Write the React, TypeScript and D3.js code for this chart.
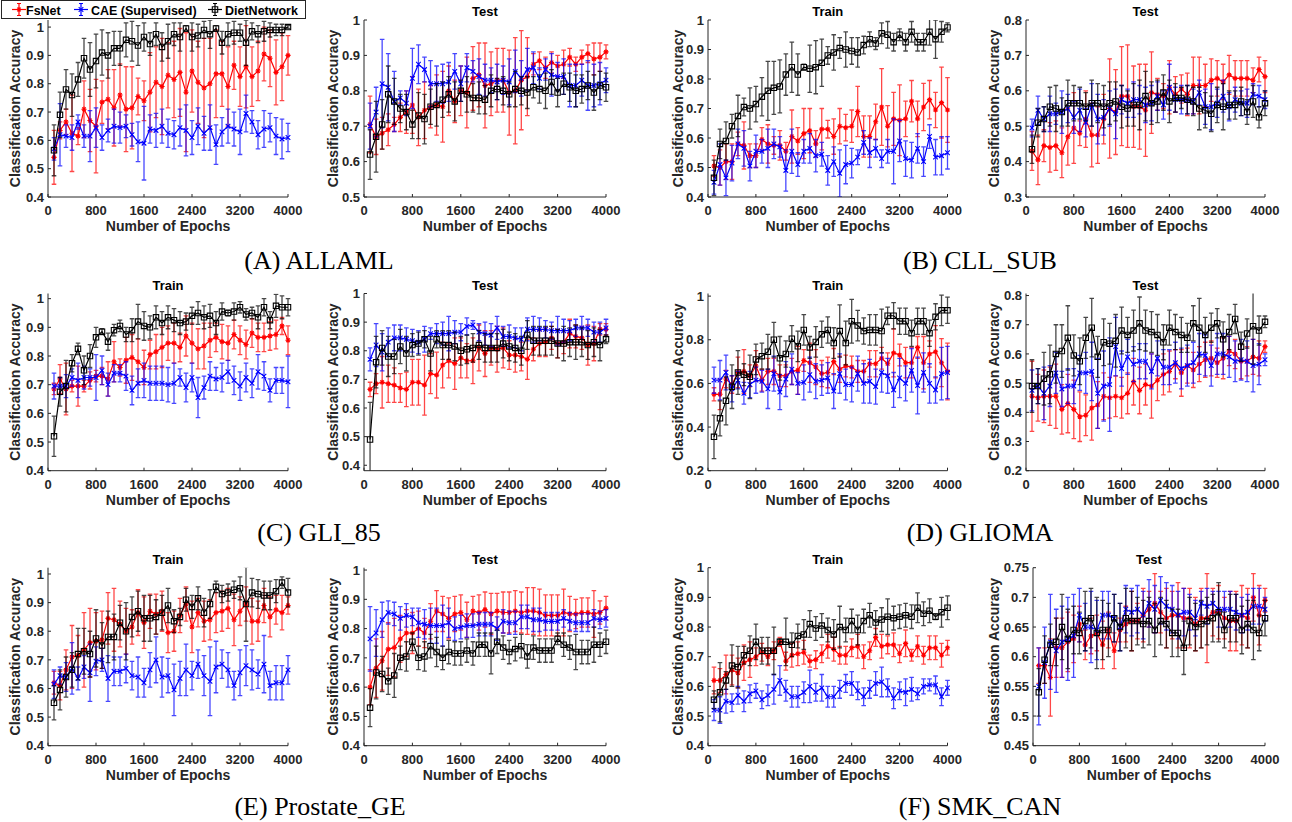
import React from 'react';
import * as d3 from 'd3';

const FONT = "'Liberation Sans', Arial, Helvetica, sans-serif";
const AXIS = '#262626';
const colors = { fs: '#ff0000', cae: '#0000ff', diet: '#000000' };
const legendNames = ['FsNet', 'CAE (Supervised)', 'DietNetwork'];

const epochs = [100, 200, 300, 400, 500, 600, 700, 800, 900, 1000, 1100, 1200, 1300, 1400, 1500, 1600, 1700, 1800, 1900, 2000,
  2100, 2200, 2300, 2400, 2500, 2600, 2700, 2800, 2900, 3000, 3100, 3200, 3300, 3400, 3500, 3600, 3700, 3800, 3900, 4000];
const xTicks = [0, 800, 1600, 2400, 3200, 4000];

// (A) ALLAML
const allamlTrainFs = [0.54,0.635,0.665,0.625,0.615,0.71,0.67,0.65,0.735,0.745,0.715,0.76,0.71,0.715,0.755,0.74,0.77,0.805,0.79,0.83,0.815,0.84,0.77,0.845,0.805,0.785,0.80,0.835,0.835,0.79,0.865,0.825,0.86,0.825,0.845,0.905,0.89,0.84,0.86,0.90];
const allamlTrainFsErr = [0.095,0.03,0.045,0.135,0.03,0.10,0.11,0.165,0.075,0.105,0.135,0.11,0.15,0.145,0.065,0.07,0.14,0.125,0.17,0.115,0.135,0.155,0.21,0.145,0.145,0.175,0.16,0.155,0.115,0.14,0.085,0.105,0.145,0.105,0.105,0.095,0.10,0.115,0.12,0.07];
const allamlTrainCae = [0.57,0.62,0.615,0.61,0.665,0.615,0.615,0.645,0.61,0.635,0.65,0.645,0.65,0.62,0.595,0.59,0.64,0.635,0.65,0.625,0.62,0.645,0.635,0.61,0.65,0.625,0.645,0.585,0.63,0.65,0.64,0.63,0.695,0.665,0.62,0.64,0.645,0.615,0.605,0.61];
const allamlTrainCaeErr = [0.04,0.11,0.04,0.045,0.025,0.04,0.09,0.07,0.045,0.04,0.06,0.055,0.04,0.04,0.07,0.13,0.05,0.06,0.06,0.05,0.05,0.065,0.09,0.06,0.065,0.06,0.08,0.07,0.05,0.06,0.06,0.08,0.065,0.04,0.05,0.065,0.05,0.065,0.07,0.05];
const allamlTrainDiet = [0.565,0.69,0.78,0.76,0.815,0.89,0.85,0.88,0.91,0.90,0.925,0.925,0.955,0.95,0.935,0.965,0.94,0.975,0.93,0.95,0.975,0.965,0.995,0.965,0.97,0.99,0.975,0.995,0.945,0.975,0.98,0.98,0.945,0.985,0.975,0.985,0.99,0.99,0.99,1.0];
const allamlTrainDietErr = [0.09,0.08,0.07,0.075,0.06,0.07,0.095,0.095,0.08,0.08,0.06,0.06,0.06,0.07,0.07,0.05,0.04,0.04,0.05,0.06,0.04,0.05,0.01,0.05,0.04,0.03,0.05,0.01,0.04,0.04,0.04,0.03,0.08,0.03,0.03,0.035,0.025,0.02,0.02,0.005];
const allamlTestFs = [0.705,0.67,0.68,0.69,0.705,0.725,0.74,0.76,0.725,0.745,0.755,0.76,0.755,0.80,0.77,0.80,0.795,0.835,0.845,0.815,0.82,0.83,0.83,0.795,0.80,0.83,0.84,0.875,0.885,0.865,0.88,0.87,0.875,0.895,0.875,0.895,0.905,0.89,0.895,0.91];
const allamlTestFsErr = [0.08,0.05,0.045,0.045,0.02,0.04,0.06,0.08,0.08,0.08,0.06,0.085,0.10,0.07,0.06,0.07,0.10,0.09,0.09,0.12,0.09,0.09,0.09,0.12,0.15,0.14,0.11,0.03,0.025,0.03,0.03,0.03,0.04,0.025,0.02,0.02,0.025,0.045,0.04,0.02];
const allamlTestCae = [0.70,0.74,0.82,0.81,0.77,0.78,0.765,0.835,0.875,0.86,0.82,0.82,0.82,0.825,0.855,0.82,0.865,0.855,0.84,0.83,0.83,0.825,0.83,0.825,0.855,0.835,0.86,0.865,0.835,0.86,0.845,0.84,0.84,0.815,0.815,0.83,0.815,0.815,0.82,0.83];
const allamlTestCaeErr = [0.065,0.07,0.125,0.095,0.085,0.02,0.035,0.085,0.055,0.035,0.065,0.05,0.055,0.055,0.05,0.05,0.04,0.03,0.05,0.045,0.035,0.05,0.04,0.065,0.06,0.05,0.06,0.045,0.03,0.03,0.06,0.04,0.05,0.06,0.06,0.045,0.07,0.06,0.06,0.035];
const allamlTestDiet = [0.62,0.67,0.705,0.79,0.77,0.75,0.74,0.705,0.73,0.72,0.755,0.76,0.775,0.79,0.77,0.80,0.79,0.78,0.78,0.775,0.80,0.805,0.80,0.79,0.805,0.80,0.795,0.81,0.805,0.80,0.825,0.795,0.82,0.81,0.80,0.805,0.815,0.795,0.815,0.81];
const allamlTestDietErr = [0.07,0.10,0.07,0.08,0.065,0.04,0.05,0.04,0.065,0.07,0.05,0.06,0.05,0.05,0.055,0.03,0.05,0.04,0.045,0.04,0.045,0.03,0.04,0.035,0.05,0.04,0.045,0.03,0.04,0.05,0.035,0.04,0.03,0.04,0.045,0.04,0.04,0.05,0.04,0.04];

// (B) CLL_SUB
const cllTrainFs = [0.505,0.50,0.52,0.52,0.58,0.575,0.54,0.54,0.595,0.58,0.575,0.575,0.555,0.605,0.59,0.615,0.625,0.58,0.63,0.63,0.605,0.64,0.635,0.64,0.69,0.605,0.605,0.655,0.705,0.64,0.665,0.66,0.665,0.725,0.665,0.705,0.73,0.695,0.72,0.695];
const cllTrainFsErr = [0.035,0.06,0.06,0.06,0.04,0.08,0.04,0.04,0.04,0.065,0.03,0.05,0.03,0.09,0.045,0.085,0.075,0.045,0.07,0.03,0.06,0.06,0.045,0.055,0.085,0.07,0.07,0.06,0.13,0.07,0.09,0.12,0.06,0.07,0.06,0.08,0.065,0.06,0.12,0.11];
const cllTrainCae = [0.45,0.51,0.465,0.515,0.58,0.565,0.505,0.555,0.555,0.565,0.58,0.57,0.49,0.555,0.51,0.555,0.565,0.54,0.545,0.49,0.52,0.48,0.51,0.515,0.535,0.585,0.55,0.565,0.53,0.555,0.555,0.59,0.53,0.525,0.565,0.52,0.605,0.535,0.54,0.55];
const cllTrainCaeErr = [0.04,0.07,0.06,0.06,0.05,0.06,0.05,0.055,0.04,0.065,0.05,0.035,0.07,0.075,0.04,0.04,0.05,0.055,0.04,0.05,0.05,0.08,0.065,0.05,0.025,0.04,0.05,0.03,0.03,0.04,0.11,0.07,0.06,0.06,0.05,0.05,0.04,0.06,0.065,0.055];
const cllTrainDiet = [0.465,0.58,0.59,0.64,0.675,0.705,0.70,0.715,0.74,0.76,0.77,0.775,0.815,0.84,0.815,0.84,0.835,0.84,0.855,0.88,0.89,0.905,0.90,0.895,0.89,0.915,0.935,0.92,0.955,0.95,0.925,0.95,0.925,0.96,0.925,0.925,0.96,0.935,0.96,0.975];
const cllTrainDietErr = [0.06,0.05,0.065,0.04,0.07,0.03,0.07,0.06,0.065,0.10,0.09,0.09,0.07,0.085,0.07,0.01,0.08,0.09,0.08,0.03,0.06,0.035,0.06,0.045,0.05,0.03,0.025,0.02,0.035,0.045,0.03,0.02,0.03,0.035,0.03,0.03,0.045,0.065,0.035,0.015];
const cllTestFs = [0.43,0.405,0.445,0.44,0.445,0.425,0.47,0.495,0.48,0.52,0.475,0.475,0.52,0.55,0.54,0.585,0.585,0.555,0.555,0.545,0.595,0.59,0.585,0.61,0.59,0.605,0.59,0.615,0.615,0.615,0.63,0.635,0.625,0.645,0.635,0.635,0.635,0.63,0.66,0.64];
const cllTestFsErr = [0.055,0.07,0.045,0.07,0.07,0.07,0.08,0.10,0.035,0.08,0.09,0.08,0.07,0.14,0.12,0.14,0.145,0.115,0.12,0.13,0.115,0.045,0.035,0.075,0.05,0.04,0.06,0.08,0.08,0.06,0.06,0.05,0.05,0.055,0.05,0.05,0.05,0.035,0.035,0.045];
const cllTestCae = [0.495,0.545,0.52,0.535,0.535,0.54,0.55,0.525,0.545,0.51,0.56,0.52,0.525,0.55,0.535,0.575,0.565,0.575,0.575,0.56,0.565,0.585,0.56,0.61,0.575,0.575,0.575,0.57,0.595,0.555,0.555,0.565,0.585,0.555,0.575,0.565,0.565,0.59,0.585,0.575];
const cllTestCaeErr = [0.025,0.04,0.035,0.05,0.03,0.06,0.04,0.045,0.06,0.04,0.06,0.07,0.05,0.05,0.07,0.04,0.04,0.05,0.04,0.05,0.05,0.04,0.04,0.065,0.035,0.04,0.04,0.035,0.035,0.05,0.065,0.04,0.045,0.04,0.035,0.035,0.04,0.03,0.03,0.025];
const cllTestDiet = [0.435,0.51,0.52,0.555,0.55,0.54,0.565,0.565,0.565,0.555,0.565,0.565,0.555,0.565,0.57,0.555,0.55,0.56,0.56,0.585,0.565,0.57,0.595,0.57,0.58,0.58,0.575,0.57,0.55,0.545,0.535,0.56,0.555,0.56,0.56,0.57,0.54,0.57,0.525,0.565];
const cllTestDietErr = [0.04,0.04,0.035,0.055,0.065,0.04,0.065,0.05,0.045,0.04,0.065,0.055,0.06,0.06,0.055,0.06,0.05,0.06,0.07,0.07,0.06,0.06,0.05,0.06,0.04,0.03,0.04,0.04,0.06,0.05,0.05,0.05,0.065,0.04,0.04,0.04,0.035,0.045,0.03,0.035];

// (C) GLI_85
const gliTrainFs = [0.685,0.72,0.685,0.695,0.695,0.695,0.715,0.73,0.73,0.72,0.78,0.76,0.785,0.795,0.78,0.76,0.805,0.815,0.83,0.845,0.845,0.83,0.87,0.845,0.825,0.835,0.855,0.865,0.85,0.845,0.875,0.855,0.84,0.88,0.865,0.865,0.87,0.875,0.905,0.855];
const gliTrainFsErr = [0.02,0.05,0.09,0.02,0.07,0.02,0.03,0.02,0.03,0.06,0.07,0.03,0.08,0.08,0.08,0.06,0.05,0.06,0.07,0.06,0.07,0.05,0.07,0.07,0.07,0.08,0.06,0.05,0.06,0.06,0.05,0.05,0.05,0.05,0.05,0.05,0.05,0.05,0.03,0.05];
const gliTrainCae = [0.695,0.695,0.695,0.725,0.715,0.725,0.725,0.725,0.75,0.70,0.74,0.74,0.73,0.68,0.705,0.715,0.705,0.705,0.705,0.70,0.705,0.725,0.69,0.725,0.655,0.69,0.73,0.72,0.725,0.745,0.715,0.695,0.725,0.705,0.745,0.73,0.68,0.715,0.715,0.71];
const gliTrainCaeErr = [0.045,0.03,0.04,0.03,0.06,0.04,0.03,0.08,0.05,0.04,0.03,0.03,0.05,0.05,0.05,0.06,0.06,0.06,0.06,0.06,0.07,0.03,0.05,0.05,0.07,0.04,0.05,0.04,0.05,0.04,0.05,0.05,0.05,0.05,0.06,0.05,0.04,0.045,0.045,0.09];
const gliTrainDiet = [0.52,0.675,0.695,0.775,0.825,0.75,0.80,0.865,0.885,0.85,0.89,0.905,0.875,0.89,0.92,0.905,0.90,0.935,0.915,0.935,0.925,0.915,0.92,0.94,0.95,0.935,0.94,0.915,0.955,0.95,0.955,0.97,0.945,0.95,0.935,0.97,0.925,0.975,0.97,0.97];
const gliTrainDietErr = [0.07,0.05,0.09,0.03,0.02,0.05,0.04,0.035,0.01,0.03,0.02,0.02,0.025,0.04,0.06,0.05,0.04,0.04,0.04,0.04,0.04,0.04,0.03,0.03,0.04,0.04,0.04,0.04,0.03,0.01,0.03,0.02,0.02,0.02,0.04,0.03,0.03,0.04,0.04,0.03];
const gliTestFs = [0.665,0.685,0.69,0.685,0.68,0.67,0.665,0.69,0.69,0.68,0.72,0.715,0.75,0.765,0.755,0.775,0.765,0.765,0.81,0.79,0.81,0.805,0.81,0.785,0.785,0.78,0.77,0.805,0.825,0.83,0.845,0.825,0.83,0.86,0.85,0.845,0.82,0.825,0.875,0.875];
const gliTestFsErr = [0.025,0.035,0.09,0.065,0.06,0.05,0.06,0.08,0.08,0.105,0.07,0.08,0.08,0.06,0.09,0.07,0.06,0.08,0.08,0.08,0.06,0.08,0.07,0.05,0.06,0.05,0.07,0.04,0.045,0.05,0.04,0.05,0.04,0.05,0.04,0.04,0.07,0.06,0.02,0.02];
const gliTestCae = [0.77,0.82,0.795,0.83,0.845,0.845,0.84,0.835,0.83,0.84,0.86,0.86,0.86,0.86,0.865,0.865,0.885,0.89,0.865,0.86,0.855,0.88,0.85,0.85,0.845,0.84,0.875,0.875,0.875,0.875,0.87,0.87,0.87,0.87,0.88,0.88,0.88,0.865,0.865,0.88];
const gliTestCaeErr = [0.04,0.075,0.065,0.05,0.045,0.045,0.04,0.04,0.04,0.045,0.02,0.035,0.04,0.06,0.04,0.03,0.03,0.015,0.03,0.04,0.04,0.04,0.035,0.04,0.035,0.04,0.04,0.045,0.04,0.03,0.03,0.05,0.04,0.035,0.03,0.04,0.03,0.035,0.035,0.03];
const gliTestDiet = [0.49,0.76,0.81,0.78,0.78,0.815,0.79,0.82,0.825,0.84,0.79,0.84,0.82,0.82,0.815,0.80,0.805,0.81,0.82,0.81,0.81,0.81,0.825,0.815,0.81,0.80,0.855,0.835,0.835,0.835,0.835,0.825,0.825,0.83,0.83,0.83,0.82,0.83,0.82,0.84];
const gliTestDietErr = [0.13,0.09,0.06,0.07,0.06,0.06,0.06,0.04,0.04,0.03,0.06,0.03,0.05,0.05,0.05,0.05,0.05,0.05,0.05,0.05,0.05,0.05,0.05,0.05,0.05,0.05,0.05,0.05,0.05,0.05,0.05,0.05,0.06,0.05,0.06,0.05,0.05,0.05,0.055,0.015];

// (D) GLIOMA
const gliomaTrainFs = [0.55,0.55,0.62,0.595,0.65,0.655,0.635,0.68,0.615,0.655,0.655,0.635,0.635,0.655,0.66,0.705,0.695,0.675,0.645,0.65,0.70,0.665,0.68,0.675,0.655,0.655,0.69,0.69,0.715,0.69,0.74,0.73,0.695,0.695,0.765,0.695,0.735,0.745,0.695,0.655];
const gliomaTrainFsErr = [0.03,0.07,0.04,0.04,0.07,0.10,0.05,0.07,0.05,0.06,0.06,0.05,0.05,0.06,0.11,0.05,0.09,0.08,0.06,0.07,0.06,0.06,0.05,0.05,0.05,0.05,0.06,0.06,0.05,0.05,0.11,0.05,0.07,0.07,0.05,0.12,0.06,0.12,0.11,0.13];
const gliomaTrainCae = [0.615,0.615,0.65,0.575,0.615,0.555,0.595,0.615,0.61,0.575,0.645,0.56,0.62,0.665,0.60,0.605,0.64,0.61,0.615,0.625,0.565,0.645,0.595,0.595,0.645,0.60,0.61,0.585,0.65,0.635,0.57,0.625,0.60,0.66,0.59,0.65,0.60,0.57,0.645,0.65];
const gliomaTrainCaeErr = [0.06,0.09,0.08,0.06,0.04,0.05,0.06,0.06,0.05,0.09,0.08,0.08,0.08,0.07,0.05,0.08,0.08,0.08,0.07,0.07,0.08,0.09,0.07,0.08,0.08,0.09,0.10,0.08,0.09,0.08,0.08,0.09,0.08,0.10,0.13,0.09,0.09,0.06,0.12,0.12];
const gliomaTrainDiet = [0.355,0.44,0.52,0.585,0.65,0.64,0.63,0.71,0.725,0.745,0.80,0.715,0.735,0.805,0.77,0.845,0.765,0.79,0.825,0.845,0.785,0.84,0.785,0.885,0.865,0.84,0.845,0.845,0.84,0.91,0.91,0.885,0.885,0.83,0.885,0.885,0.83,0.905,0.935,0.935];
const gliomaTrainDietErr = [0.10,0.08,0.11,0.10,0.10,0.05,0.10,0.07,0.06,0.08,0.08,0.10,0.06,0.06,0.07,0.07,0.05,0.07,0.06,0.06,0.07,0.12,0.10,0.10,0.07,0.06,0.07,0.07,0.10,0.04,0.06,0.06,0.06,0.06,0.06,0.06,0.06,0.06,0.07,0.06];
const gliomaTestFs = [0.455,0.45,0.455,0.455,0.455,0.41,0.43,0.41,0.385,0.39,0.415,0.425,0.455,0.45,0.455,0.45,0.465,0.505,0.475,0.495,0.49,0.51,0.53,0.54,0.565,0.535,0.56,0.545,0.565,0.58,0.585,0.57,0.585,0.61,0.60,0.575,0.575,0.59,0.585,0.625];
const gliomaTestFsErr = [0.12,0.08,0.09,0.10,0.11,0.085,0.10,0.10,0.085,0.07,0.11,0.08,0.08,0.07,0.07,0.07,0.07,0.08,0.08,0.07,0.11,0.07,0.07,0.07,0.05,0.08,0.06,0.06,0.06,0.06,0.06,0.05,0.07,0.05,0.05,0.06,0.05,0.06,0.06,0.02];
const gliomaTestCae = [0.475,0.49,0.465,0.49,0.535,0.48,0.49,0.49,0.535,0.535,0.54,0.465,0.49,0.495,0.625,0.55,0.59,0.565,0.575,0.575,0.54,0.585,0.555,0.555,0.57,0.55,0.56,0.57,0.60,0.595,0.56,0.60,0.60,0.59,0.575,0.58,0.575,0.56,0.565,0.58];
const gliomaTestCaeErr = [0.07,0.06,0.09,0.07,0.07,0.06,0.06,0.06,0.06,0.07,0.10,0.12,0.12,0.16,0.10,0.06,0.06,0.06,0.06,0.06,0.06,0.06,0.06,0.06,0.07,0.07,0.07,0.07,0.07,0.07,0.07,0.07,0.07,0.07,0.07,0.07,0.07,0.09,0.07,0.02];
const gliomaTestDiet = [0.49,0.49,0.515,0.53,0.60,0.61,0.655,0.595,0.575,0.655,0.69,0.59,0.64,0.635,0.645,0.68,0.665,0.68,0.705,0.68,0.675,0.665,0.64,0.69,0.675,0.665,0.655,0.705,0.69,0.665,0.69,0.705,0.65,0.675,0.72,0.625,0.67,0.695,0.68,0.71];
const gliomaTestDietErr = [0.09,0.06,0.09,0.10,0.10,0.09,0.11,0.07,0.08,0.07,0.10,0.07,0.08,0.07,0.09,0.08,0.06,0.07,0.09,0.07,0.07,0.07,0.06,0.06,0.06,0.06,0.05,0.06,0.10,0.06,0.05,0.05,0.06,0.06,0.05,0.05,0.05,0.13,0.05,0.02];

// (E) Prostate_GE
const prostateTrainFs = [0.62,0.61,0.665,0.71,0.715,0.735,0.76,0.765,0.77,0.845,0.84,0.825,0.80,0.815,0.865,0.83,0.87,0.86,0.87,0.795,0.80,0.855,0.895,0.815,0.865,0.835,0.84,0.865,0.87,0.88,0.84,0.87,0.895,0.835,0.835,0.89,0.85,0.875,0.865,0.89];
const prostateTrainFsErr = [0.04,0.05,0.07,0.11,0.07,0.13,0.12,0.10,0.10,0.09,0.11,0.08,0.08,0.06,0.08,0.09,0.06,0.07,0.07,0.07,0.07,0.06,0.06,0.09,0.05,0.07,0.07,0.07,0.07,0.07,0.09,0.05,0.06,0.08,0.07,0.06,0.07,0.05,0.06,0.03];
const prostateTrainCae = [0.615,0.645,0.64,0.67,0.635,0.675,0.655,0.695,0.70,0.635,0.66,0.66,0.67,0.645,0.64,0.62,0.665,0.70,0.64,0.645,0.595,0.635,0.665,0.645,0.685,0.645,0.625,0.675,0.685,0.665,0.61,0.655,0.68,0.665,0.65,0.685,0.61,0.62,0.62,0.665];
const prostateTrainCaeErr = [0.05,0.03,0.05,0.09,0.04,0.04,0.10,0.05,0.04,0.08,0.05,0.05,0.05,0.05,0.07,0.05,0.06,0.08,0.07,0.06,0.09,0.06,0.09,0.05,0.05,0.07,0.12,0.09,0.05,0.06,0.05,0.08,0.07,0.07,0.05,0.10,0.05,0.06,0.06,0.05];
const prostateTrainDiet = [0.55,0.595,0.64,0.665,0.72,0.73,0.72,0.775,0.75,0.78,0.78,0.83,0.80,0.85,0.87,0.845,0.845,0.85,0.865,0.89,0.835,0.85,0.91,0.885,0.915,0.865,0.895,0.955,0.93,0.935,0.945,0.95,0.895,0.935,0.93,0.925,0.925,0.94,0.97,0.935];
const prostateTrainDietErr = [0.06,0.07,0.07,0.06,0.09,0.08,0.08,0.10,0.08,0.09,0.08,0.06,0.10,0.07,0.07,0.08,0.08,0.06,0.06,0.06,0.04,0.03,0.04,0.04,0.04,0.05,0.05,0.02,0.03,0.03,0.03,0.04,0.13,0.05,0.05,0.05,0.05,0.04,0.02,0.05];
const prostateTestFs = [0.60,0.665,0.69,0.73,0.735,0.765,0.785,0.785,0.80,0.785,0.825,0.86,0.85,0.835,0.85,0.855,0.83,0.86,0.855,0.865,0.85,0.86,0.855,0.855,0.86,0.855,0.86,0.86,0.855,0.845,0.845,0.845,0.855,0.85,0.85,0.855,0.855,0.85,0.855,0.87];
const prostateTestFsErr = [0.06,0.10,0.10,0.09,0.10,0.08,0.08,0.07,0.06,0.05,0.06,0.07,0.06,0.07,0.06,0.06,0.06,0.05,0.06,0.06,0.07,0.06,0.07,0.07,0.07,0.07,0.08,0.08,0.08,0.07,0.07,0.07,0.08,0.06,0.05,0.05,0.05,0.08,0.04,0.04];
const prostateTestCae = [0.765,0.785,0.83,0.855,0.85,0.835,0.845,0.84,0.82,0.815,0.81,0.81,0.81,0.82,0.80,0.805,0.81,0.81,0.815,0.815,0.815,0.80,0.825,0.82,0.82,0.84,0.84,0.83,0.83,0.825,0.825,0.825,0.835,0.825,0.82,0.82,0.82,0.835,0.83,0.835];
const prostateTestCaeErr = [0.11,0.08,0.06,0.04,0.04,0.04,0.04,0.03,0.05,0.05,0.06,0.06,0.07,0.05,0.04,0.04,0.04,0.04,0.04,0.04,0.04,0.04,0.04,0.04,0.04,0.04,0.04,0.04,0.04,0.03,0.03,0.03,0.03,0.03,0.03,0.03,0.03,0.03,0.03,0.03];
const prostateTestDiet = [0.53,0.65,0.645,0.62,0.64,0.70,0.705,0.755,0.70,0.705,0.74,0.72,0.70,0.72,0.715,0.715,0.725,0.715,0.745,0.745,0.715,0.755,0.735,0.72,0.73,0.74,0.705,0.735,0.725,0.725,0.725,0.765,0.745,0.735,0.72,0.72,0.72,0.745,0.745,0.755];
const prostateTestDietErr = [0.065,0.09,0.06,0.045,0.075,0.04,0.05,0.03,0.04,0.05,0.04,0.05,0.04,0.04,0.04,0.04,0.04,0.04,0.04,0.04,0.07,0.04,0.04,0.04,0.04,0.04,0.04,0.04,0.04,0.04,0.04,0.02,0.04,0.04,0.06,0.04,0.04,0.06,0.04,0.04];

// (F) SMK_CAN
const smkTrainFs = [0.62,0.62,0.64,0.655,0.645,0.68,0.69,0.70,0.715,0.70,0.72,0.75,0.685,0.705,0.71,0.715,0.685,0.69,0.71,0.735,0.725,0.705,0.705,0.73,0.735,0.70,0.72,0.765,0.735,0.74,0.74,0.71,0.745,0.705,0.735,0.705,0.73,0.73,0.705,0.73];
const smkTrainFsErr = [0.045,0.04,0.065,0.05,0.05,0.06,0.06,0.03,0.03,0.03,0.03,0.015,0.03,0.04,0.04,0.04,0.02,0.03,0.03,0.04,0.04,0.03,0.03,0.03,0.04,0.04,0.03,0.03,0.04,0.03,0.04,0.03,0.045,0.02,0.035,0.03,0.04,0.04,0.04,0.025];
const smkTrainCae = [0.52,0.52,0.55,0.545,0.57,0.55,0.575,0.585,0.555,0.57,0.59,0.62,0.585,0.565,0.565,0.58,0.60,0.58,0.595,0.565,0.565,0.59,0.61,0.61,0.585,0.565,0.59,0.61,0.615,0.595,0.56,0.585,0.58,0.59,0.575,0.60,0.605,0.605,0.565,0.595];
const smkTrainCaeErr = [0.035,0.045,0.04,0.03,0.03,0.035,0.03,0.025,0.03,0.035,0.05,0.05,0.035,0.035,0.035,0.035,0.055,0.03,0.045,0.035,0.035,0.03,0.03,0.04,0.03,0.03,0.03,0.04,0.05,0.03,0.035,0.03,0.045,0.04,0.02,0.025,0.02,0.03,0.03,0.025];
const smkTrainDiet = [0.555,0.58,0.62,0.67,0.665,0.705,0.72,0.75,0.72,0.72,0.72,0.75,0.75,0.74,0.77,0.775,0.81,0.795,0.805,0.79,0.775,0.80,0.79,0.82,0.79,0.82,0.84,0.815,0.825,0.835,0.83,0.835,0.84,0.835,0.865,0.845,0.855,0.835,0.85,0.865];
const smkTrainDietErr = [0.03,0.10,0.03,0.07,0.07,0.03,0.05,0.06,0.045,0.045,0.08,0.01,0.08,0.04,0.04,0.05,0.045,0.04,0.04,0.04,0.05,0.07,0.04,0.04,0.05,0.04,0.04,0.04,0.04,0.06,0.04,0.04,0.04,0.04,0.05,0.04,0.04,0.01,0.05,0.04];
const smkTestFs = [0.585,0.585,0.565,0.615,0.615,0.625,0.63,0.655,0.62,0.635,0.64,0.62,0.645,0.61,0.645,0.655,0.66,0.66,0.67,0.68,0.69,0.675,0.665,0.67,0.67,0.665,0.665,0.655,0.665,0.665,0.675,0.675,0.665,0.66,0.66,0.67,0.665,0.70,0.67,0.695];
const smkTestFsErr = [0.03,0.03,0.065,0.05,0.05,0.05,0.04,0.03,0.025,0.03,0.03,0.04,0.03,0.03,0.02,0.03,0.05,0.03,0.045,0.03,0.05,0.035,0.05,0.04,0.055,0.05,0.05,0.045,0.05,0.075,0.04,0.045,0.035,0.05,0.05,0.05,0.05,0.04,0.05,0.02];
const smkTestCae = [0.55,0.59,0.625,0.61,0.625,0.63,0.635,0.67,0.65,0.65,0.645,0.67,0.67,0.665,0.65,0.68,0.675,0.68,0.67,0.69,0.68,0.695,0.685,0.68,0.67,0.675,0.675,0.665,0.69,0.685,0.69,0.68,0.68,0.68,0.675,0.67,0.675,0.685,0.685,0.68];
const smkTestCaeErr = [0.065,0.06,0.08,0.07,0.06,0.07,0.07,0.045,0.04,0.06,0.05,0.04,0.04,0.04,0.04,0.04,0.04,0.04,0.04,0.04,0.04,0.04,0.04,0.04,0.04,0.04,0.03,0.03,0.02,0.03,0.02,0.03,0.03,0.03,0.03,0.03,0.03,0.03,0.03,0.02];
const smkTestDiet = [0.54,0.595,0.62,0.625,0.65,0.63,0.645,0.64,0.66,0.665,0.64,0.645,0.645,0.665,0.65,0.665,0.66,0.66,0.655,0.66,0.645,0.66,0.655,0.64,0.64,0.615,0.66,0.65,0.655,0.66,0.665,0.675,0.645,0.665,0.665,0.645,0.655,0.645,0.64,0.665];
const smkTestDietErr = [0.04,0.04,0.035,0.04,0.055,0.05,0.04,0.035,0.05,0.05,0.06,0.05,0.045,0.04,0.04,0.05,0.05,0.04,0.04,0.04,0.045,0.04,0.04,0.04,0.04,0.045,0.04,0.04,0.04,0.04,0.04,0.05,0.03,0.04,0.04,0.04,0.04,0.05,0.03,0.03];

type Series = { key: 'fs' | 'cae' | 'diet'; mean: number[]; err: number[] };
type PanelCfg = {
  id: string; title: string; x0: number; x1: number; y0: number; y1: number;
  domain: [number, number]; yTicks: number[]; yLabelX: number; series: Series[]; legend?: boolean;
};

const tri = (fs: number[], fsE: number[], cae: number[], caeE: number[], diet: number[], dietE: number[]): Series[] => [
  { key: 'fs', mean: fs, err: fsE },
  { key: 'cae', mean: cae, err: caeE },
  { key: 'diet', mean: diet, err: dietE },
];

const ROWS = [
  { y0: 20, y1: 197 },
  { y0: 293.5, y1: 470.7 },
  { y0: 567.7, y1: 745.7 },
];

const panels: PanelCfg[] = [
  { id: 'a1', title: 'Train', legend: true, x0: 48, x1: 288, ...ROWS[0], domain: [0.4, 1.025], yTicks: [0.4, 0.5, 0.6, 0.7, 0.8, 0.9, 1], yLabelX: 15,
    series: tri(allamlTrainFs, allamlTrainFsErr, allamlTrainCae, allamlTrainCaeErr, allamlTrainDiet, allamlTrainDietErr) },
  { id: 'a2', title: 'Test', x0: 364, x1: 606, ...ROWS[0], domain: [0.5, 1], yTicks: [0.5, 0.6, 0.7, 0.8, 0.9, 1], yLabelX: 333,
    series: tri(allamlTestFs, allamlTestFsErr, allamlTestCae, allamlTestCaeErr, allamlTestDiet, allamlTestDietErr) },
  { id: 'b1', title: 'Train', x0: 708, x1: 947.5, ...ROWS[0], domain: [0.4, 1.0], yTicks: [0.4, 0.5, 0.6, 0.7, 0.8, 0.9, 1], yLabelX: 678,
    series: tri(cllTrainFs, cllTrainFsErr, cllTrainCae, cllTrainCaeErr, cllTrainDiet, cllTrainDietErr) },
  { id: 'b2', title: 'Test', x0: 1026, x1: 1265, ...ROWS[0], domain: [0.3, 0.8], yTicks: [0.3, 0.4, 0.5, 0.6, 0.7, 0.8], yLabelX: 994,
    series: tri(cllTestFs, cllTestFsErr, cllTestCae, cllTestCaeErr, cllTestDiet, cllTestDietErr) },
  { id: 'c1', title: 'Train', x0: 48, x1: 288, ...ROWS[1], domain: [0.4, 1.018], yTicks: [0.4, 0.5, 0.6, 0.7, 0.8, 0.9, 1], yLabelX: 15,
    series: tri(gliTrainFs, gliTrainFsErr, gliTrainCae, gliTrainCaeErr, gliTrainDiet, gliTrainDietErr) },
  { id: 'c2', title: 'Test', x0: 364, x1: 606, ...ROWS[1], domain: [0.381, 1], yTicks: [0.4, 0.5, 0.6, 0.7, 0.8, 0.9, 1], yLabelX: 333,
    series: tri(gliTestFs, gliTestFsErr, gliTestCae, gliTestCaeErr, gliTestDiet, gliTestDietErr) },
  { id: 'd1', title: 'Train', x0: 708, x1: 947.5, ...ROWS[1], domain: [0.2, 1.012], yTicks: [0.2, 0.4, 0.6, 0.8, 1], yLabelX: 678,
    series: tri(gliomaTrainFs, gliomaTrainFsErr, gliomaTrainCae, gliomaTrainCaeErr, gliomaTrainDiet, gliomaTrainDietErr) },
  { id: 'd2', title: 'Test', x0: 1026, x1: 1265, ...ROWS[1], domain: [0.2, 0.807], yTicks: [0.2, 0.3, 0.4, 0.5, 0.6, 0.7, 0.8], yLabelX: 994,
    series: tri(gliomaTestFs, gliomaTestFsErr, gliomaTestCae, gliomaTestCaeErr, gliomaTestDiet, gliomaTestDietErr) },
  { id: 'e1', title: 'Train', x0: 48, x1: 288, ...ROWS[2], domain: [0.4, 1.022], yTicks: [0.4, 0.5, 0.6, 0.7, 0.8, 0.9, 1], yLabelX: 15,
    series: tri(prostateTrainFs, prostateTrainFsErr, prostateTrainCae, prostateTrainCaeErr, prostateTrainDiet, prostateTrainDietErr) },
  { id: 'e2', title: 'Test', x0: 364, x1: 606, ...ROWS[2], domain: [0.4, 1.008], yTicks: [0.4, 0.5, 0.6, 0.7, 0.8, 0.9, 1], yLabelX: 333,
    series: tri(prostateTestFs, prostateTestFsErr, prostateTestCae, prostateTestCaeErr, prostateTestDiet, prostateTestDietErr) },
  { id: 'f1', title: 'Train', x0: 708, x1: 947.5, ...ROWS[2], domain: [0.4, 1.0], yTicks: [0.4, 0.5, 0.6, 0.7, 0.8, 0.9, 1], yLabelX: 678,
    series: tri(smkTrainFs, smkTrainFsErr, smkTrainCae, smkTrainCaeErr, smkTrainDiet, smkTrainDietErr) },
  { id: 'f2', title: 'Test', x0: 1033, x1: 1265, ...ROWS[2], domain: [0.45, 0.75], yTicks: [0.45, 0.5, 0.55, 0.6, 0.65, 0.7, 0.75], yLabelX: 994,
    series: tri(smkTestFs, smkTestFsErr, smkTestCae, smkTestCaeErr, smkTestDiet, smkTestDietErr) },
];

const captions = [
  { text: '(A) ALLAML', x: 319, y: 269 },
  { text: '(B) CLL_SUB', x: 980, y: 269 },
  { text: '(C) GLI_85', x: 319, y: 541 },
  { text: '(D) GLIOMA', x: 980, y: 541 },
  { text: '(E) Prostate_GE', x: 320, y: 815 },
  { text: '(F) SMK_CAN', x: 980, y: 815 },
];

// marker path for one point
function markerPath(key: string, cx: number, cy: number) {
  if (key === 'diet') {
    const h = 2.7;
    return `M${cx - h},${cy - h}h${2 * h}v${2 * h}h${-2 * h}Z`;
  }
  if (key === 'fs') {
    const r = 2.6, d = r * 0.7;
    return `M${cx - r},${cy}H${cx + r}M${cx},${cy - r}V${cy + r}M${cx - d},${cy - d}L${cx + d},${cy + d}M${cx - d},${cy + d}L${cx + d},${cy - d}`;
  }
  const r = 2.3;
  return `M${cx - r},${cy - r}L${cx + r},${cy + r}M${cx - r},${cy + r}L${cx + r},${cy - r}`;
}

function SeriesMarks({ s, x, y }: { s: Series; x: d3.ScaleLinear<number, number>; y: d3.ScaleLinear<number, number> }) {
  const n = Math.min(s.mean.length, epochs.length);
  const pts = d3.range(n).map(i => [x(epochs[i]), y(s.mean[i])] as [number, number]);
  const line = d3.line();
  const cap = 2.3;
  let err = '';
  let marks = '';
  for (let i = 0; i < n; i++) {
    const cx = pts[i][0];
    const e = s.err[i] ?? 0;
    const lo = y(s.mean[i] - e), hi = y(s.mean[i] + e);
    err += `M${cx},${lo}V${hi}M${cx - cap},${lo}H${cx + cap}M${cx - cap},${hi}H${cx + cap}`;
    marks += markerPath(s.key, cx, pts[i][1]);
  }
  const c = colors[s.key];
  return (
    <g>
      <path d={err} fill="none" stroke={c} strokeOpacity={0.72} strokeWidth={1.3} />
      <path d={line(pts) ?? ''} fill="none" stroke={c} strokeWidth={1.2} />
      <path d={marks} fill="none" stroke={c} strokeWidth={1.1} />
    </g>
  );
}

function Panel({ p }: { p: PanelCfg }) {
  const x = d3.scaleLinear().domain([0, 4000]).range([p.x0, p.x1]);
  const y = d3.scaleLinear().domain(p.domain).range([p.y1, p.y0]);
  const fmt = (v: number) => String(+v.toFixed(2));
  const clip = `clip-${p.id}`;
  return (
    <g>
      <defs>
        <clipPath id={clip}>
          <rect x={p.x0 - 6} y={p.y0} width={p.x1 - p.x0 + 12} height={p.y1 - p.y0} />
        </clipPath>
      </defs>
      <g clipPath={`url(#${clip})`}>
        {p.series.map(s => <SeriesMarks key={s.key} s={s} x={x} y={y} />)}
      </g>
      <g stroke={AXIS} strokeWidth={1} fill="none">
        <path d={`M${p.x0},${p.y0}V${p.y1}H${p.x1}`} />
        {xTicks.map(t => <path key={t} d={`M${x(t)},${p.y1}v-3`} />)}
        {p.yTicks.map(t => <path key={t} d={`M${p.x0},${y(t)}h3`} />)}
      </g>
      <g fill={AXIS} fontFamily={FONT} fontWeight="bold" fontSize={13}>
        {xTicks.map(t => <text key={t} x={x(t)} y={p.y1 + 18} textAnchor="middle">{t}</text>)}
        {p.yTicks.map(t => <text key={t} x={p.x0 - 4} y={y(t)} dy="0.36em" textAnchor="end">{fmt(t)}</text>)}
      </g>
      <text x={(p.x0 + p.x1) / 2} y={p.y1 + 34} textAnchor="middle" fontFamily={FONT} fontWeight="bold" fontSize={14} fill={AXIS}>Number of Epochs</text>
      <text transform={`translate(${p.yLabelX},${(p.y0 + p.y1) / 2}) rotate(-90)`} textAnchor="middle" dy="0.36em"
        fontFamily={FONT} fontWeight="bold" fontSize={14} fill={AXIS}>Classification Accuracy</text>
      {!p.legend && (
        <text x={(p.x0 + p.x1) / 2} y={p.y0 - 4} textAnchor="middle" fontFamily={FONT} fontWeight="bold" fontSize={13} fill="#000">{p.title}</text>
      )}
    </g>
  );
}

function Legend() {
  const items = [
    { key: 'fs', cx: 19, tx: 26 },
    { key: 'cae', cx: 81, tx: 91 },
    { key: 'diet', cx: 215, tx: 225 },
  ];
  return (
    <g>
      <rect x={1.5} y={0.5} width={304} height={18} fill="#fff" stroke={AXIS} strokeWidth={1} />
      {items.map((it, i) => {
        const c = colors[it.key as 'fs'];
        return (
          <g key={it.key}>
            <path d={`M${it.cx - 7},9.5H${it.cx + 7}`} stroke={c} strokeWidth={1.2} />
            <path d={`M${it.cx},3.5V15.5M${it.cx - 2},3.5H${it.cx + 2}M${it.cx - 2},15.5H${it.cx + 2}`} stroke={c} strokeWidth={1.2} />
            <path d={markerPath(it.key, it.cx, 9.5)} stroke={c} fill="none" strokeWidth={1.1} />
            <text x={it.tx} y={14.5} fontFamily={FONT} fontWeight="bold" fontSize={12.5} fill="#000">{legendNames[i]}</text>
          </g>
        );
      })}
    </g>
  );
}

export default function App() {
  return (
    <svg width={1292} height={822} style={{ position: 'absolute', left: 0, top: 0 }}>
      <rect width={1292} height={822} fill="#fff" />
      {panels.map(p => <Panel key={p.id} p={p} />)}
      <Legend />
      {captions.map(c => (
        <text key={c.text} x={c.x} y={c.y} textAnchor="middle" fontFamily="'Liberation Serif', 'Times New Roman', serif" fontSize={26} fill="#000">{c.text}</text>
      ))}
    </svg>
  );
}
